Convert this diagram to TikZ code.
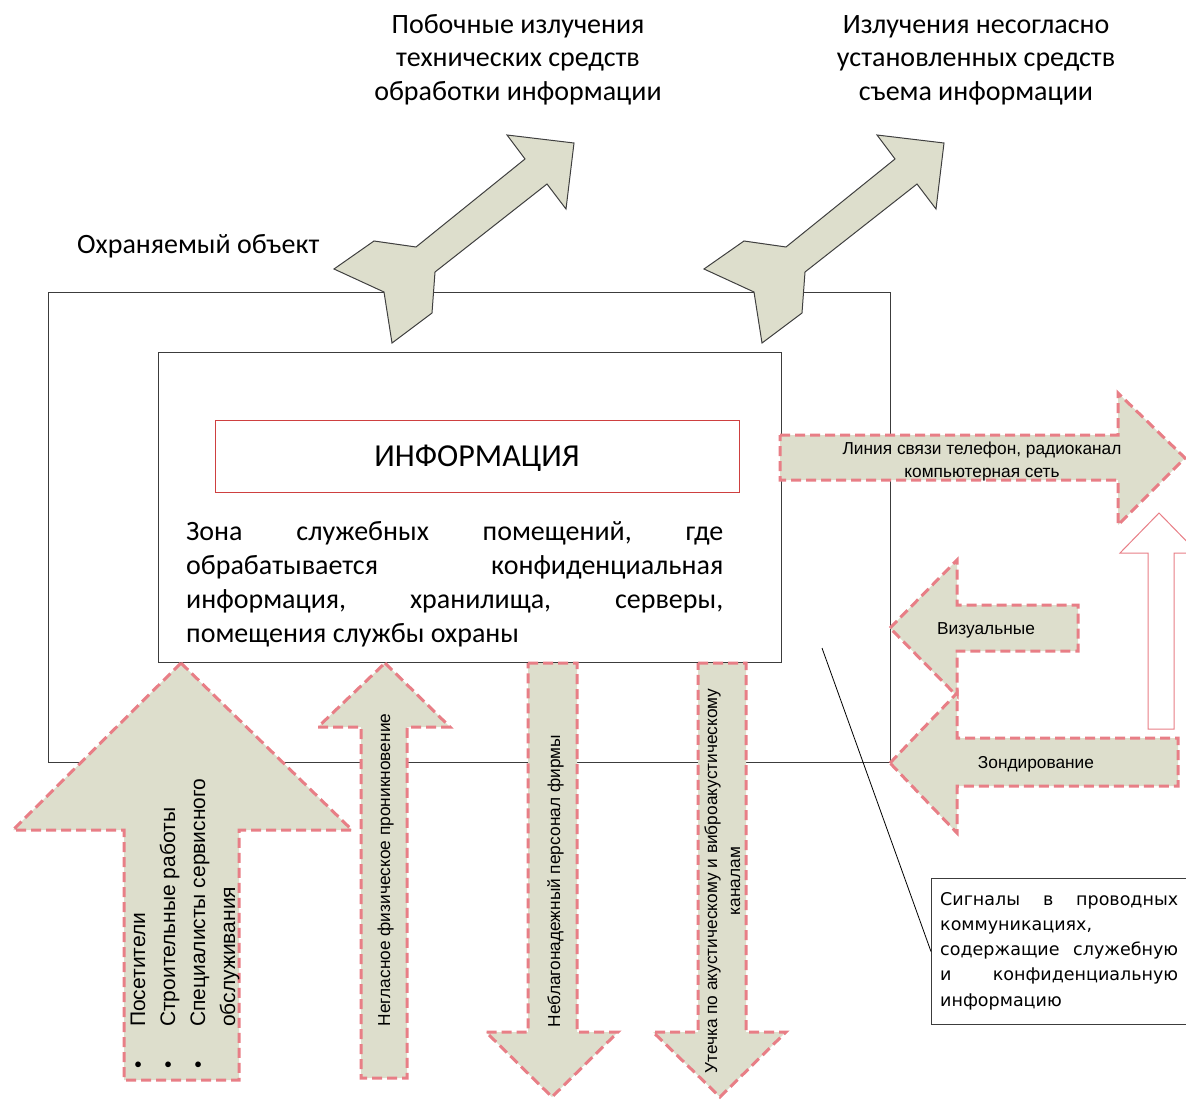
\documentclass[tikz,border=0pt]{standalone}
\usepackage{fontspec}
\setmainfont{Carlito}
\newfontfamily\arialf{Liberation Sans}
\newfontfamily\dejav{DejaVu Sans}
\definecolor{afill}{RGB}{221,222,204}
\definecolor{apink}{RGB}{232,126,134}
\definecolor{boxline}{RGB}{60,60,60}
\definecolor{infored}{RGB}{206,64,64}
\begin{document}
\begin{tikzpicture}[x=1pt,y=-1pt,
  frame/.style={draw=boxline, line width=1.1pt, inner sep=0pt, anchor=north west},
  dasharrow/.style={fill=afill, draw=apink, line width=3pt, dash pattern=on 10pt off 5pt, line join=miter},
  solidarrow/.style={fill=afill, draw=black!75, line width=1pt, line join=miter},
  hollowarrow/.style={fill=white, draw=apink, line width=1pt},
  bigtext/.style={inner sep=0pt, font=\fontsize{28}{33.5}\selectfont},
  small/.style={inner sep=0pt, font=\arialf\fontsize{17.3}{23}\selectfont},
]
\path[use as bounding box] (0,0) rectangle (1186,1100);

% frames
\node[frame, minimum width=842pt, minimum height=470pt] (outer) at (48,292) {};
\node[frame, minimum width=623pt, minimum height=310pt] (inner) at (158,352) {};
\node[frame, draw=infored, line width=1pt, minimum width=524pt, minimum height=72pt] (info) at (215,420) {};
\node[frame, minimum width=261pt, minimum height=146pt] (sig) at (931,878) {};

% top diagonal arrows
\foreach \dx in {0,370}{
  \begin{scope}[xshift=\dx pt]
  \path[solidarrow] (507,135) -- (574,143) -- (566,209) -- (547,184) -- (435,272)
    -- (432,313) -- (392,343) -- (384,292) -- (334,269) -- (374,241) -- (416,247)
    -- (525,159) -- cycle;
  \end{scope}
}

% bottom arrows
\path[dasharrow] (181,663) -- (352,830) -- (239,830) -- (239,1080) -- (124,1080) -- (124,830) -- (13,830) -- cycle;
\path[dasharrow] (385,663) -- (450,727) -- (407,727) -- (407,1078) -- (361,1078) -- (361,727) -- (318,727) -- cycle;
\path[dasharrow] (528,663) -- (577,663) -- (577,1032) -- (618,1032) -- (552,1097) -- (486,1032) -- (528,1032) -- cycle;
\path[dasharrow] (698,663) -- (746,663) -- (746,1032) -- (786,1032) -- (720,1097) -- (653,1032) -- (698,1032) -- cycle;

% right arrows
\path[dasharrow] (780,435) -- (1118,435) -- (1118,393) -- (1185,458) -- (1118,525) -- (1118,480) -- (780,480) -- cycle;
\path[dasharrow] (890,628) -- (957,560) -- (957,605) -- (1078,605) -- (1078,651) -- (957,651) -- (957,696) -- cycle;
\path[dasharrow] (890,763) -- (957,693) -- (957,738) -- (1178,738) -- (1178,786) -- (957,786) -- (957,833) -- cycle;
\path[hollowarrow] (1159,513) -- (1198,553) -- (1174,553) -- (1174,729) -- (1148,729) -- (1148,553) -- (1120,553) -- cycle;

% connector
\coordinate (ptr) at (822,648);
\draw[line width=0.8pt] (ptr) -- (sig.west);

% texts
\node[bigtext, anchor=base] (t1) at (518,33) {\parbox[t]{420pt}{\centering Побочные излучения\\ технических средств\\ обработки информации}};
\node[bigtext, anchor=base] (t2) at (976,33) {\parbox[t]{420pt}{\centering Излучения несогласно\\ установленных средств\\ съема информации}};
\node[bigtext, anchor=base west] (ohr) at (77,253) {Охраняемый объект};
\node[inner sep=0pt, font=\fontsize{32}{38}\selectfont, anchor=base] (infotext) at (477,466) {ИНФОРМАЦИЯ};
\node[inner sep=0pt, font=\fontsize{28}{34.3}\selectfont, anchor=base west] (zone) at (186,540) {\parbox[t]{537pt}{%
  \makebox[537pt][s]{Зона\hfill служебных\hfill помещений,\hfill где}\\
  \makebox[537pt][s]{обрабатывается\hfill конфиденциальная}\\
  \makebox[537pt][s]{информация,\hfill хранилища,\hfill серверы,}\\
  помещения службы охраны}};

\node[inner sep=0pt, anchor=base west, font=\dejav\fontsize{17.5}{25.3}\selectfont] (sigtext) at (940,905) {\parbox[t]{238pt}{%
  \makebox[238pt][s]{Сигналы\hfill в\hfill проводных}\\
  коммуникациях,\\
  \makebox[238pt][s]{содержащие\hfill служебную}\\
  \makebox[238pt][s]{и\hfill конфиденциальную}\\
  информацию}};

\node[small, anchor=base] (lin) at (982,454) {\parbox[t]{330pt}{\centering Линия связи телефон, радиоканал\\ компьютерная сеть}};
\node[small, anchor=base] (viz) at (986,634) {Визуальные};
\node[small, anchor=base] (zond) at (1036,768) {Зондирование};

\node[small, rotate=90, anchor=base] (neg) at (390,870) {Негласное физическое проникновение};
\node[small, rotate=90, anchor=base] (nebl) at (560,881) {Неблагонадежный персонал фирмы};
\node[small, rotate=90, anchor=base] (utech) at (717,881) {\parbox[t]{420pt}{\centering Утечка по акустическому и виброакустическому\\ каналам}};

\node[inner sep=0pt, rotate=90, anchor=base west, font=\arialf\fontsize{21}{30}\selectfont] (list) at (145,1069) {%
  \begin{tabular}[t]{@{}p{42pt}@{}l@{}}
  •&Посетители\\
  •&Строительные работы\\
  •&Специалисты сервисного\\
  &обслуживания
  \end{tabular}};
\end{tikzpicture}
\end{document}
